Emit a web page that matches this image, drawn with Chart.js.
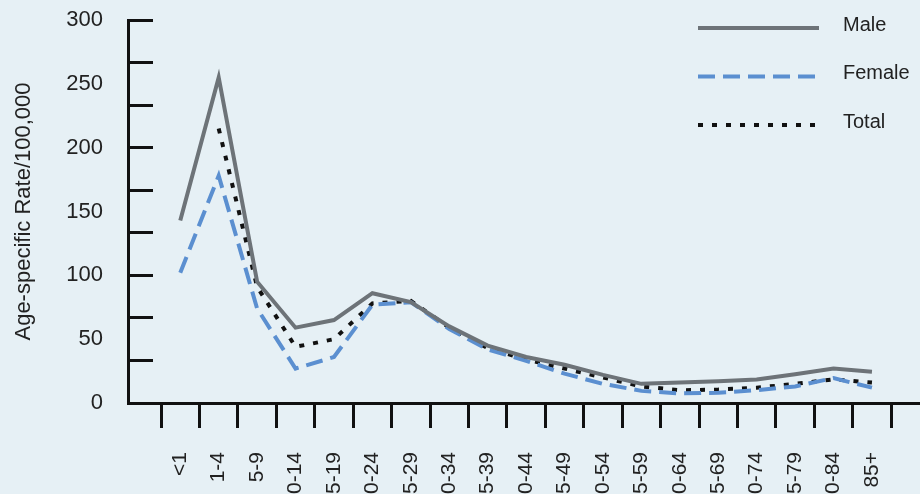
<!DOCTYPE html>
<html>
<head>
<meta charset="utf-8">
<script src="https://cdn.jsdelivr.net/npm/chart.js@4/dist/chart.umd.min.js"></script>
<style>
  html, body { margin: 0; padding: 0; background: #e6f0f5; }
  #wrap { width: 920px; height: 494px; position: relative; }
</style>
</head>
<body>
<div id="wrap"><canvas id="c"></canvas></div>
<script>
const categories = ['<1','1-4','5-9','10-14','15-19','20-24','25-29','30-34','35-39','40-44','45-49','50-54','55-59','60-64','65-69','70-74','75-79','80-84','85+'];
const maleRate   = [143, 255, 95, 59, 65, 86, 79, 60, 45, 36, 30, 22, 15, 16, 17, 18.5, 22.5, 27, 24.5];
const femaleRate = [102, 178, 74, 27, 36, 77, 79, 58, 42, 33, 23, 15, 9.5, 7.5, 8, 10, 13, 19.5, 12];
const totalRate  = [null, 215, 91, 44, 50, 78, 80, 59, 43, 34, 27, 20, 13, 10, 10.5, 12, 15, 18.5, 16];
const yLabelValues = [0, 50, 100, 150, 200, 250, 300];
const yTickMarkCount = 9; // tick marks divide 0-300 into 9 steps in the original

const FONT = "'Liberation Sans', Arial, sans-serif";
const yMarks = Array.from({length: yTickMarkCount + 1}, (_, i) => 300 * i / yTickMarkCount);
const isMark = v => yMarks.some(m => Math.abs(m - v) < 1e-6);
const yAllTicks = Array.from(new Set([...yMarks, ...yLabelValues])).sort((a, b) => a - b);

const toPoints = arr => arr.map((v, i) => ({x: i, y: v}));

const sideLegend = {
  id: 'sideLegend',
  afterDraw(chart, args, opts) {
    const ctx = chart.ctx;
    chart.data.datasets.forEach((ds, i) => {
      const y = opts.top + i * opts.spacing;
      ctx.save();
      ctx.strokeStyle = ds.borderColor;
      ctx.lineWidth = ds.borderWidth;
      ctx.lineCap = 'butt';
      ctx.setLineDash(ds.borderDash || []);
      ctx.beginPath();
      ctx.moveTo(opts.x1, y);
      ctx.lineTo(opts.x2, y);
      ctx.stroke();
      ctx.setLineDash([]);
      ctx.fillStyle = '#222';
      ctx.font = opts.fontSize + 'px ' + FONT;
      ctx.textBaseline = 'middle';
      ctx.textAlign = 'left';
      ctx.fillText(ds.label, opts.textX, y - 3);
      ctx.restore();
    });
  }
};

new Chart(document.getElementById('c'), {
  type: 'line',
  data: {
    datasets: [
      { label: 'Male', data: toPoints(maleRate), borderColor: '#6d7378', borderWidth: 4, pointRadius: 0, tension: 0, fill: false },
      { label: 'Female', data: toPoints(femaleRate), borderColor: '#5b8fd0', borderWidth: 4, borderDash: [17, 8], pointRadius: 0, tension: 0, fill: false },
      { label: 'Total', data: toPoints(totalRate), borderColor: '#111111', borderWidth: 4, borderDash: [5, 9], pointRadius: 0, tension: 0, fill: false, spanGaps: false }
    ]
  },
  options: {
    responsive: true,
    maintainAspectRatio: false,
    animation: false,
    layout: { padding: { top: 20, left: 0, right: 0, bottom: 0 } },
    plugins: {
      legend: { display: false },
      tooltip: { enabled: false },
      sideLegend: { x1: 698, x2: 819, textX: 843, top: 28, spacing: 48.5, fontSize: 20 }
    },
    scales: {
      x: {
        type: 'linear',
        min: -1.36,
        max: 19.25,
        afterBuildTicks: s => {
          const t = [];
          for (let v = -0.5; v <= categories.length - 0.5; v += 0.5) t.push({value: v});
          s.ticks = t;
        },
        ticks: {
          autoSkip: false,
          minRotation: 90,
          maxRotation: 90,
          padding: 24,
          color: '#222',
          font: { family: FONT, size: 21 },
          callback: v => Number.isInteger(v) ? categories[v] : ''
        },
        grid: {
          drawOnChartArea: false,
          drawTicks: true,
          tickLength: 25,
          tickWidth: 3,
          tickColor: c => (c.tick && Number.isInteger(c.tick.value)) ? 'rgba(0,0,0,0)' : '#111'
        },
        border: { display: true, color: '#111', width: 3 },
        afterFit: s => { s.height = 91; s.paddingLeft = 0; s.paddingRight = 0; }
      },
      y: {
        min: 0,
        max: 300,
        afterBuildTicks: s => { s.ticks = yAllTicks.map(v => ({value: v})); },
        ticks: {
          autoSkip: false,
          padding: 50,
          color: '#222',
          font: { family: FONT, size: 22 },
          callback: v => yLabelValues.includes(v) ? String(v) : ''
        },
        grid: {
          drawOnChartArea: false,
          drawTicks: true,
          tickLength: -25,
          tickWidth: 3,
          tickColor: c => (c.tick && isMark(c.tick.value)) ? '#111' : 'rgba(0,0,0,0)'
        },
        border: { display: true, color: '#111', width: 3 },
        title: {
          display: true,
          text: 'Age-specific Rate/100,000',
          color: '#222',
          font: { family: FONT, size: 22 },
          padding: { top: 11, bottom: 0 }
        },
        afterFit: s => { s.width = 128; s.paddingTop = 0; s.paddingBottom = 0; }
      }
    }
  },
  plugins: [sideLegend]
});
</script>
</body>
</html>
